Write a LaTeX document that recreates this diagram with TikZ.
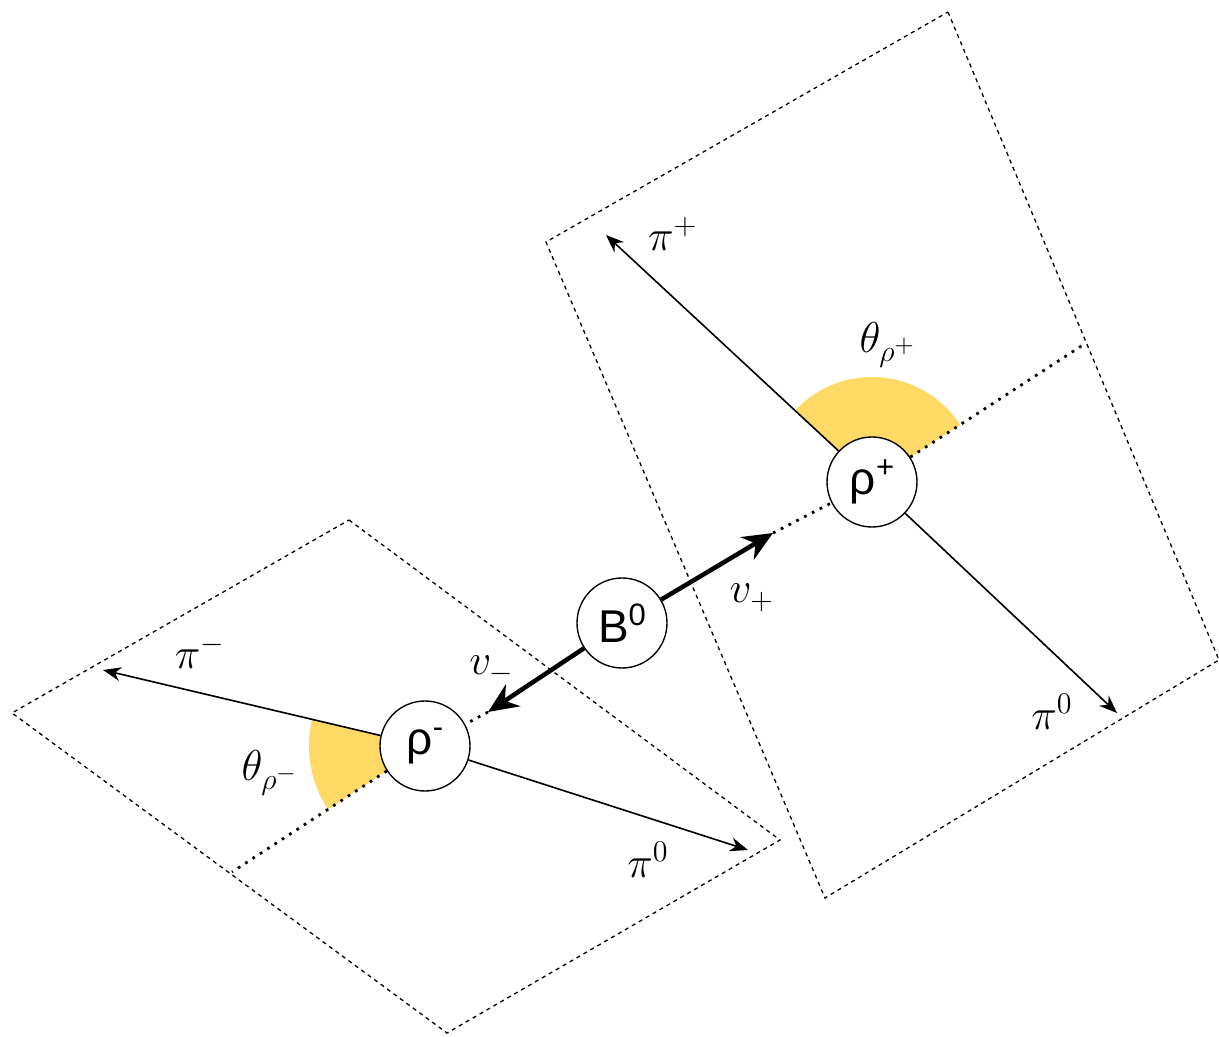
\documentclass[tikz,border=0pt]{standalone}
\usepackage{fontspec}
\setsansfont{Liberation Sans}
\usetikzlibrary{arrows.meta,calc}
\definecolor{wedgeyellow}{HTML}{FFD966}
\newcommand\suptext[1]{\raisebox{0.38em}{\fontsize{12.4}{12.4}\selectfont #1}}
\begin{document}
\begin{tikzpicture}[x=0.4pt,y=0.4pt,
  ball/.style={circle,draw,line width=0.55pt,fill=white,minimum size=36pt,inner sep=0pt,
    font=\sffamily\fontsize{18.4}{18.4}\selectfont},
  lbl/.style={inner sep=0pt,font=\fontsize{17.28}{20}\selectfont},
  planebox/.style={draw,line width=0.52pt,dash pattern=on 1.6pt off 1.6pt},
  axisline/.style={line width=1.1pt,dash pattern=on 1.1pt off 2.4pt},
  decay/.style={line width=0.65pt,-{Stealth[length=7.2pt,width=5.6pt]}},
  fat/.style={line width=1.8pt,-{Stealth[length=12pt,width=10.4pt]}},
  wedgefill/.style={fill=wedgeyellow}]
\useasboundingbox (0,0) rectangle (1219,-1037);
% centres
\coordinate (cB) at (622,-623);
\coordinate (cP) at (872,-482);
\coordinate (cM) at (425,-746);
% planes
\coordinate (r1) at (948,-12);
\coordinate (r2) at (1219,-660);
\coordinate (r3) at (825,-898);
\coordinate (r4) at (546,-242);
\coordinate (l1) at (349,-520);
\coordinate (l2) at (780,-840);
\coordinate (l3) at (447,-1033);
\coordinate (l4) at (12,-713);
\draw[planebox] (r1) -- (r2) -- (r3) -- (r4) -- cycle;
\draw[planebox] (l1) -- (l2) -- (l3) -- (l4) -- cycle;
% wedges
\fill[wedgefill] ([shift={(33:105)}]cP) arc[start angle=33,end angle=137,radius=105]
  -- ([shift={(137:45)}]cP) arc[start angle=137,end angle=33,radius=45] -- cycle;
\fill[wedgefill] ([shift={(166.7:116)}]cM) arc[start angle=166.7,end angle=213.1,radius=116]
  -- ([shift={(213.1:45)}]cM) arc[start angle=213.1,end angle=166.7,radius=45] -- cycle;
% nodes
\node[ball] (B) at (cB) {B\suptext{0}};
\node[ball] (rp) at (cP) {ρ\suptext{+}};
\node[ball] (rm) at (cM) {ρ\suptext{-}};
% axis coordinates
\coordinate (tp) at (773,-533);
\coordinate (tm) at (488,-712);
\coordinate (ep) at (1086,-343);
\coordinate (em) at (232,-872);
\draw[axisline] (tp) -- (rp);
\draw[axisline] (rp) -- (ep);
\draw[axisline] (tm) -- (rm);
\draw[axisline] (rm) -- (em);
\draw[fat] (B) -- (tp);
\draw[fat] (B) -- (tm);
% decay products
\coordinate (pp) at (606,-235);
\coordinate (p0r) at (1117,-713);
\coordinate (pm) at (103,-670);
\coordinate (p0l) at (748,-850);
\draw[decay] (rp) -- (pp);
\draw[decay] (rp) -- (p0r);
\draw[decay] (rm) -- (pm);
\draw[decay] (rm) -- (p0l);
% labels
\node[lbl] (lpp) at (673,-234) {$\pi^+$};
\node[lbl] (lp0r) at (1052,-712) {$\pi^0$};
\node[lbl] (lp0l) at (648,-860) {$\pi^0$};
\node[lbl] (lpm) at (200,-652) {$\pi^-$};
\node[lbl] (lthp) at (888,-345) {$\theta_{\rho^+}$};
\node[lbl] (lthm) at (270,-773) {$\theta_{\rho^-}$};
\node[lbl] (lvp) at (752,-598) {$v_+$};
\node[lbl] (lvm) at (492,-670) {$v_-$};
\end{tikzpicture}
\end{document}
